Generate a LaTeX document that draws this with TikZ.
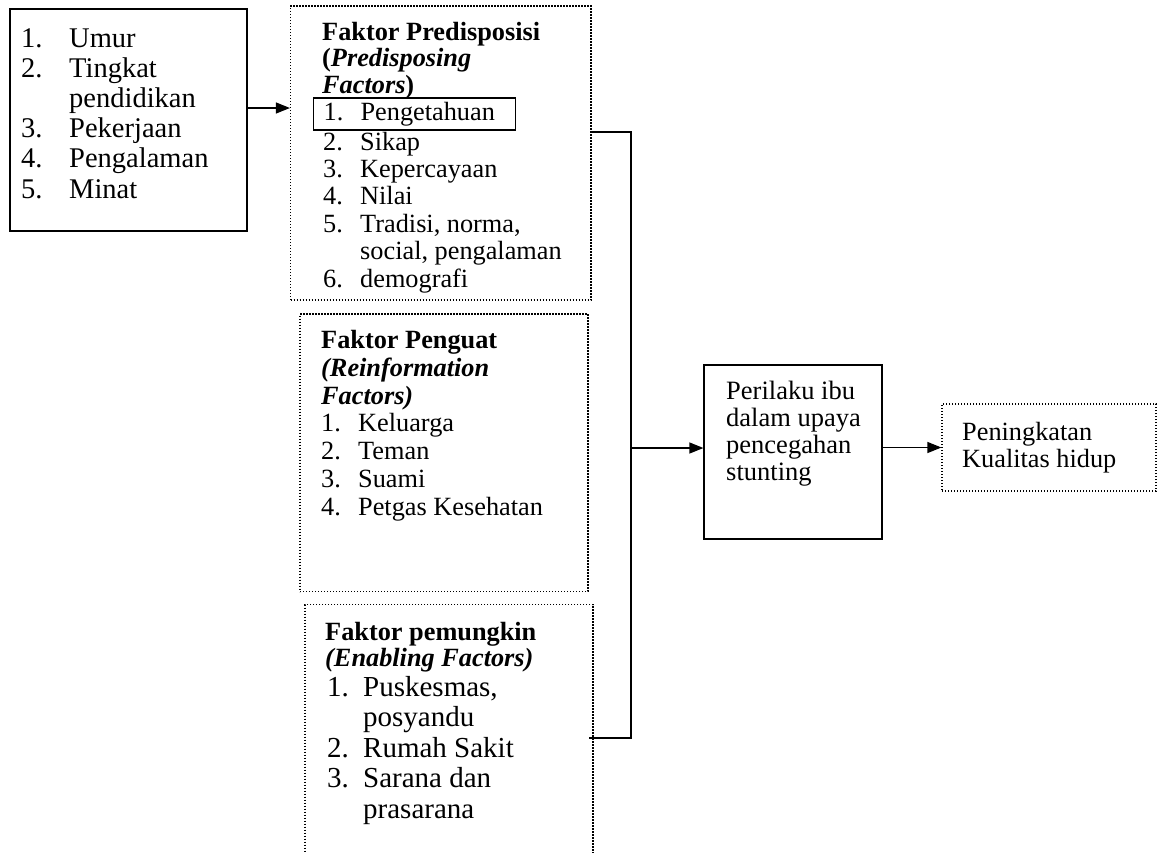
\documentclass[tikz,border=0pt]{standalone}
\usepackage{fontspec}
\setmainfont{Liberation Serif}
\usetikzlibrary{arrows.meta}
\newcommand{\nitem}[3][37pt]{\makebox[#1][l]{#2}#3}
\tikzset{
  solidbox/.style={
    draw,
    line width=1.2pt,
    inner sep=0
  },
  dotbox/.style={
    draw,
    line width=1.2pt,
    dash pattern=on 1.2pt off 1.8pt,
    inner sep=0
  },
  txt/.style={
    align=left,
    inner sep=0,
    anchor=base west
  },
  arr/.style={
    -{Triangle[length=14pt,width=11pt]},
    line width=1.2pt
  }
}
\begin{document}
\begin{tikzpicture}[x=1pt,y=-1pt]
  \useasboundingbox (0,0) rectangle (1164,852);
  \clip (0,0) rectangle (1164,852);
  % boxes
  \node[solidbox, minimum width=237pt, minimum height=222pt] (umur) at (128.5,120) {};
  \node[dotbox, minimum width=300.5pt, minimum height=294pt] (predis) at (440.75,153) {};
  \node[dotbox, minimum width=288pt, minimum height=277.5pt] (penguat) at (444,452.75) {};
  \node[dotbox, minimum width=288pt, minimum height=270pt] (pemungkin) at (449,739.6) {};
  \node[solidbox, minimum width=178pt, minimum height=174pt] (perilaku) at (793,452) {};
  \node[dotbox, minimum width=214pt, minimum height=87pt] (kualitas) at (1049,447.5) {};
  % texts (placed at the baseline of their last line)
  \node[txt, font=\fontsize{28.5}{30.2}\selectfont] (umurtxt) at (21,198)
    {\nitem[48pt]{1.}{Umur}\\\nitem[48pt]{2.}{Tingkat}\\\nitem[48pt]{}{pendidikan}\\
     \nitem[48pt]{3.}{Pekerjaan}\\\nitem[48pt]{4.}{Pengalaman}\\\nitem[48pt]{5.}{Minat}};
  \node[txt, font=\fontsize{26.3}{26.5}\selectfont] (predishead) at (322,93)
    {\textbf{Faktor Predisposisi}\\\textbf{(\textit{Predisposing}}\\\textbf{\textit{Factors})}};
  \node[solidbox, anchor=west, inner xsep=10pt, text width=182pt, minimum height=32pt,
    font=\fontsize{26.3}{27.4}\selectfont] (pengetahuan) at (313,114) {\nitem{1.}{Pengetahuan}};
  \node[txt, font=\fontsize{26.3}{27.4}\selectfont] (predistxt) at (323,287)
    {\nitem{2.}{Sikap}\\\nitem{3.}{Kepercayaan}\\\nitem{4.}{Nilai}\\
     \nitem{5.}{Tradisi, norma,}\\\nitem{}{social, pengalaman}\\\nitem{6.}{demografi}};
  \node[txt, font=\fontsize{26.3}{27.7}\selectfont] (penguattxt) at (321,515)
    {\textbf{Faktor Penguat}\\\textbf{\textit{(Reinformation}}\\\textbf{\textit{Factors)}}\\
     \nitem{1.}{Keluarga}\\\nitem{2.}{Teman}\\\nitem{3.}{Suami}\\\nitem{4.}{Petgas Kesehatan}};
  \node[txt, font=\fontsize{26.3}{26}\selectfont] (pemungkinhead) at (325,666)
    {\textbf{Faktor pemungkin}\\\textbf{\textit{(Enabling Factors)}}};
  \node[txt, font=\fontsize{29}{30.5}\selectfont] (pemungkintxt) at (327,818)
    {\nitem[36pt]{1.}{Puskesmas,}\\\nitem[36pt]{}{posyandu}\\\nitem[36pt]{2.}{Rumah Sakit}\\
     \nitem[36pt]{3.}{Sarana dan}\\\nitem[36pt]{}{prasarana}};
  \node[txt, font=\fontsize{26.5}{26.7}\selectfont] (perilakutxt) at (726,480)
    {Perilaku ibu\\dalam upaya\\pencegahan\\stunting};
  \node[txt, font=\fontsize{26.3}{26.5}\selectfont] (kualitastxt) at (962,467)
    {Peningkatan\\Kualitas hidup};
  % connectors
  \coordinate (brtop) at (631,132);
  \coordinate (brmid) at (631,448);
  \coordinate (brbot) at (631,738);
  \draw[arr] ([yshift=12pt]umur.east) -- ([yshift=12pt]umur.east -| predis.west);
  \draw[line width=1.2pt] (predis.east |- brtop) -- (brtop) -- (brbot) -- ([xshift=-5pt]pemungkin.east |- brbot);
  \draw[arr] (brmid) -- (brmid -| perilaku.west);
  \draw[arr] (perilaku.east |- kualitas.west) -- (kualitas.west);
\end{tikzpicture}
\end{document}
